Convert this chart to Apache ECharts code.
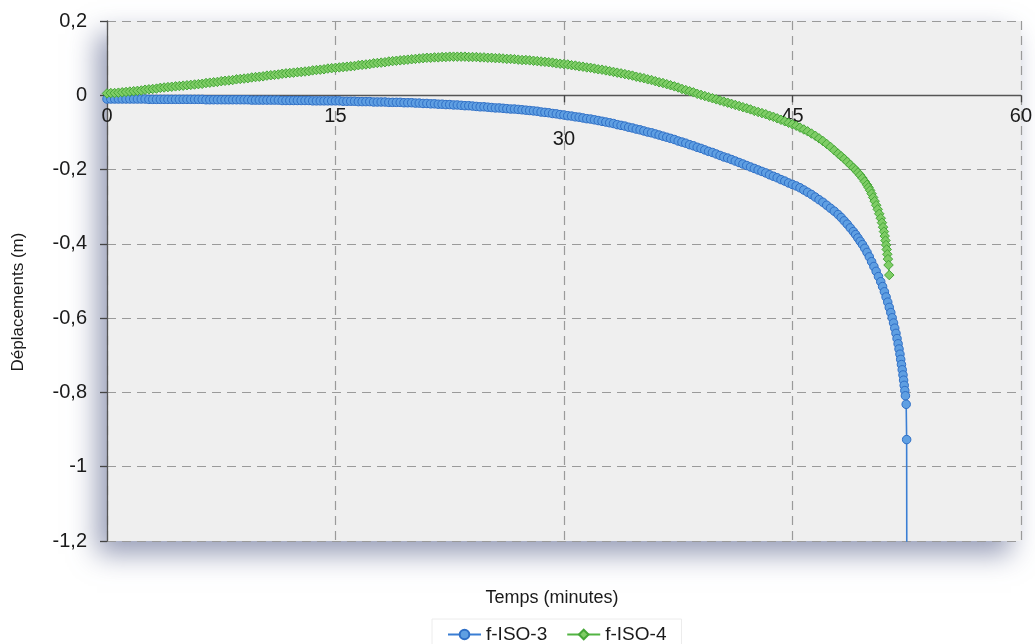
<!DOCTYPE html>
<html>
<head>
<meta charset="utf-8">
<script src="https://cdn.jsdelivr.net/npm/echarts@6/dist/echarts.min.js"></script>
<style>
html,body{margin:0;padding:0;background:#fff;}
#chart{width:1035px;height:644px;}
</style>
</head>
<body>
<div id="chart"></div>
<script>
// ---- data ----
const xTicks = [0, 15, 30, 45, 60];
const yTicks = [0.2, 0, -0.2, -0.4, -0.6, -0.8, -1, -1.2];
const seriesNames = ['f-ISO-3', 'f-ISO-4'];

// shared time base (minutes) for the slow part of both curves
const times = [0,0.25,0.5,0.75,1,1.25,1.5,1.75,2,2.25,2.5,2.75,3,3.25,3.5,3.75,4,4.25,4.5,4.75,
5,5.25,5.5,5.75,6,6.25,6.5,6.75,7,7.25,7.5,7.75,8,8.25,8.5,8.75,9,9.25,9.5,9.75,
10,10.25,10.5,10.75,11,11.25,11.5,11.75,12,12.25,12.5,12.75,13,13.25,13.5,13.75,14,14.25,14.5,14.75,
15,15.25,15.5,15.75,16,16.25,16.5,16.75,17,17.25,17.5,17.75,18,18.25,18.5,18.75,19,19.25,19.5,19.75,
20,20.25,20.5,20.75,21,21.25,21.5,21.75,22,22.25,22.5,22.75,23,23.25,23.5,23.75,24,24.25,24.5,24.75,
25,25.25,25.5,25.75,26,26.25,26.5,26.75,27,27.25,27.5,27.75,28,28.25,28.5,28.75,29,29.25,29.5,29.75,
30,30.25,30.5,30.75,31,31.25,31.5,31.75,32,32.25,32.5,32.75,33,33.25,33.5,33.75,34,34.25,34.5,34.75,
35,35.25,35.5,35.75,36,36.25,36.5,36.75,37,37.25,37.5,37.75,38,38.25,38.5,38.75,39,39.25,39.5,39.75,
40,40.25,40.5,40.75,41,41.25,41.5,41.75,42,42.25,42.5,42.75,43,43.25,43.5,43.75,44,44.25,44.5,44.75,45];

const iso3Main = [-0.010,-0.010,-0.010,-0.010,-0.010,-0.010,-0.010,-0.010,-0.010,-0.010,-0.010,-0.011,
-0.011,-0.011,-0.011,-0.011,-0.011,-0.011,-0.011,-0.011,-0.011,-0.011,-0.011,-0.011,
-0.011,-0.011,-0.012,-0.012,-0.012,-0.012,-0.012,-0.012,-0.012,-0.012,-0.012,-0.012,
-0.012,-0.012,-0.013,-0.013,-0.013,-0.013,-0.013,-0.013,-0.013,-0.013,-0.014,-0.014,
-0.014,-0.014,-0.014,-0.014,-0.014,-0.014,-0.015,-0.015,-0.015,-0.015,-0.015,-0.015,
-0.015,-0.015,-0.016,-0.016,-0.016,-0.016,-0.017,-0.017,-0.017,-0.017,-0.018,-0.018,
-0.018,-0.018,-0.019,-0.019,-0.019,-0.019,-0.020,-0.020,-0.020,-0.021,-0.021,-0.022,
-0.022,-0.023,-0.023,-0.024,-0.024,-0.025,-0.025,-0.026,-0.026,-0.027,-0.028,-0.028,
-0.029,-0.030,-0.031,-0.031,-0.032,-0.033,-0.034,-0.034,-0.035,-0.036,-0.037,-0.037,
-0.038,-0.039,-0.040,-0.041,-0.042,-0.043,-0.045,-0.046,-0.047,-0.049,-0.050,-0.052,
-0.053,-0.055,-0.056,-0.058,-0.059,-0.061,-0.063,-0.064,-0.066,-0.068,-0.070,-0.072,
-0.074,-0.076,-0.079,-0.081,-0.083,-0.086,-0.088,-0.091,-0.093,-0.096,-0.099,-0.101,
-0.104,-0.107,-0.110,-0.113,-0.116,-0.119,-0.123,-0.126,-0.129,-0.133,-0.136,-0.140,
-0.143,-0.147,-0.151,-0.154,-0.158,-0.162,-0.166,-0.169,-0.173,-0.177,-0.181,-0.185,
-0.189,-0.193,-0.197,-0.201,-0.205,-0.209,-0.214,-0.218,-0.222,-0.227,-0.231,-0.236,-0.240];

const iso4Main = [0.005,0.006,0.006,0.007,0.008,0.009,0.010,0.011,0.012,0.013,0.015,0.016,
0.017,0.018,0.020,0.021,0.022,0.023,0.024,0.025,0.026,0.027,0.028,0.029,
0.030,0.031,0.033,0.034,0.035,0.036,0.038,0.039,0.040,0.041,0.043,0.044,
0.045,0.046,0.048,0.049,0.050,0.051,0.053,0.054,0.055,0.056,0.058,0.059,
0.060,0.061,0.062,0.063,0.064,0.065,0.067,0.068,0.069,0.070,0.072,0.073,
0.074,0.075,0.076,0.077,0.078,0.079,0.081,0.082,0.083,0.084,0.086,0.087,
0.088,0.089,0.091,0.092,0.093,0.094,0.095,0.096,0.097,0.098,0.099,0.100,
0.101,0.101,0.102,0.102,0.103,0.103,0.104,0.104,0.104,0.104,0.104,0.103,
0.103,0.103,0.102,0.102,0.101,0.101,0.100,0.100,0.099,0.098,0.098,0.097,
0.096,0.095,0.095,0.094,0.093,0.092,0.091,0.090,0.089,0.088,0.086,0.085,
0.084,0.083,0.081,0.080,0.078,0.077,0.075,0.074,0.072,0.070,0.069,0.067,
0.065,0.063,0.061,0.059,0.057,0.055,0.053,0.050,0.048,0.046,0.043,0.041,
0.038,0.035,0.033,0.030,0.027,0.024,0.021,0.017,0.014,0.011,0.008,0.004,
0.001,-0.002,-0.005,-0.008,-0.011,-0.014,-0.017,-0.020,-0.023,-0.026,-0.029,-0.032,
-0.035,-0.038,-0.042,-0.045,-0.048,-0.051,-0.055,-0.058,-0.062,-0.066,-0.070,-0.074,-0.078];

// fast (collapse) part, own time steps
const iso3TailT = [45.25,45.5,45.75,46,46.25,46.5,46.75,47,47.25,47.5,47.75,48,48.2,48.4,48.6,48.8,49,49.15,49.3,49.45,
49.6,49.75,49.9,50.05,50.2,50.35,50.5,50.65,50.8,50.92,51.04,51.15,51.26,51.36,51.46,51.55,51.64,51.72,51.8,51.87,
51.94,52,52.06,52.11,52.16,52.21,52.26,52.3,52.34,52.38,52.42,52.47,52.5,52.52];
const iso3TailV = [-0.244,-0.249,-0.255,-0.261,-0.267,-0.274,-0.281,-0.288,-0.296,-0.304,-0.312,-0.321,-0.329,-0.338,-0.347,-0.357,-0.367,-0.375,-0.384,-0.393,
-0.402,-0.412,-0.423,-0.435,-0.448,-0.461,-0.474,-0.488,-0.502,-0.515,-0.529,-0.543,-0.557,-0.571,-0.585,-0.599,-0.613,-0.627,-0.641,-0.655,
-0.669,-0.683,-0.697,-0.711,-0.725,-0.739,-0.753,-0.767,-0.781,-0.795,-0.809,-0.832,-0.927,-1.6];

const iso4TailT = [45.25,45.5,45.75,46,46.25,46.5,46.75,47,47.25,47.5,47.75,48,48.2,48.4,48.6,48.8,49,49.15,49.3,49.45,
49.6,49.75,49.9,50,50.1,50.2,50.3,50.4,50.5,50.6,50.7,50.8,50.88,50.95,51.01,51.06,51.11,51.15,51.19,51.23,51.27,51.31,51.36];
const iso4TailV = [-0.082,-0.087,-0.092,-0.097,-0.103,-0.109,-0.116,-0.123,-0.131,-0.139,-0.148,-0.157,-0.164,-0.171,-0.179,-0.187,-0.195,-0.201,-0.208,-0.215,
-0.223,-0.232,-0.241,-0.248,-0.256,-0.265,-0.275,-0.285,-0.296,-0.307,-0.319,-0.331,-0.343,-0.355,-0.367,-0.379,-0.391,-0.403,-0.415,-0.428,-0.441,-0.457,-0.484];

// ---- build ----
const iso3Data = times.map((t, i) => [t, iso3Main[i]]).concat(iso3TailT.map((t, i) => [t, iso3TailV[i]]));
const iso4Data = times.map((t, i) => [t, iso4Main[i]]).concat(iso4TailT.map((t, i) => [t, iso4TailV[i]]));

const FONT = '"Liberation Sans", Arial, Helvetica, sans-serif';
const TXT = '#1a1a1a';
const GRID = {left: 107, right: 12, top: 21, bottom: 103};
const yMin = yTicks[yTicks.length - 1], yMax = yTicks[0];
const plotH = 644 - GRID.top - GRID.bottom;
// move the x axis (line, ticks, labels) up to the y = 0 level
const xAxisOffset = -plotH * (0 - yMin) / (yMax - yMin);

const chart = echarts.init(document.getElementById('chart'), null, {renderer: 'canvas'});
chart.setOption({
  animation: false,
  backgroundColor: '#ffffff',
  grid: Object.assign({
    show: true,
    backgroundColor: '#efefef',
    borderWidth: 0,
    shadowColor: 'rgba(95,105,145,0.65)',
    shadowBlur: 26,
    shadowOffsetX: -10,
    shadowOffsetY: 13
  }, GRID),
  xAxis: {
    type: 'value',
    position: 'bottom',
    offset: xAxisOffset,
    min: xTicks[0], max: xTicks[xTicks.length - 1], interval: xTicks[1] - xTicks[0],
    axisLine: {show: true, onZero: false, lineStyle: {color: '#555', width: 1.3}},
    axisTick: {show: true, length: 7, lineStyle: {color: '#444', width: 1.3}},
    axisLabel: {
      margin: 11, fontSize: 20, color: TXT, fontFamily: FONT,
      formatter: v => (v === xTicks[2] ? '{low|' + v + '}' : String(v)),
      rich: {low: {padding: [23, 0, 0, 0], fontSize: 20, color: TXT, fontFamily: FONT}}
    },
    splitLine: {show: true, lineStyle: {color: '#9a9a9a', type: [9, 6], width: 1.2}}
  },
  yAxis: {
    type: 'value',
    min: yMin, max: yMax, interval: 0.2,
    axisLine: {show: true, onZero: false, lineStyle: {color: '#555', width: 1.3}},
    axisTick: {show: true, length: 7, lineStyle: {color: '#444', width: 1.3}},
    axisLabel: {
      margin: 20, fontSize: 20, color: TXT, fontFamily: FONT,
      formatter: v => String(Math.round(v * 10) / 10).replace('.', ',')
    },
    splitLine: {show: true, lineStyle: {color: '#9a9a9a', type: [9, 6], width: 1.2}}
  },
  legend: {
    left: 432, top: 619,
    padding: [6, 15, 6, 15],
    borderColor: '#ececec', borderWidth: 1,
    itemWidth: 33, itemHeight: 12, itemGap: 19,
    textStyle: {fontSize: 19, color: TXT, fontFamily: FONT},
    data: seriesNames
  },
  graphic: [
    {type: 'text', x: 18, y: 302, rotation: Math.PI / 2,
     style: {text: 'Déplacements (m)', font: '17px ' + FONT, fill: TXT, textAlign: 'center', textVerticalAlign: 'middle'}},
    {type: 'text', x: 552, y: 598,
     style: {text: 'Temps (minutes)', font: '18px ' + FONT, fill: TXT, textAlign: 'center', textVerticalAlign: 'middle'}}
  ],
  series: [
    {
      name: seriesNames[0], type: 'line', data: iso3Data, clip: true,
      symbol: 'circle', symbolSize: 8.5, showSymbol: true,
      lineStyle: {color: '#3a7ed4', width: 1.6},
      itemStyle: {color: '#5f9fe2', borderColor: '#2f6fc6', borderWidth: 1}
    },
    {
      name: seriesNames[1], type: 'line', data: iso4Data, clip: true,
      symbol: 'diamond', symbolSize: 9.5, showSymbol: true,
      lineStyle: {color: '#52b443', width: 1.6},
      itemStyle: {color: '#7fcd66', borderColor: '#45a637', borderWidth: 1}
    }
  ]
});
</script>
</body>
</html>
